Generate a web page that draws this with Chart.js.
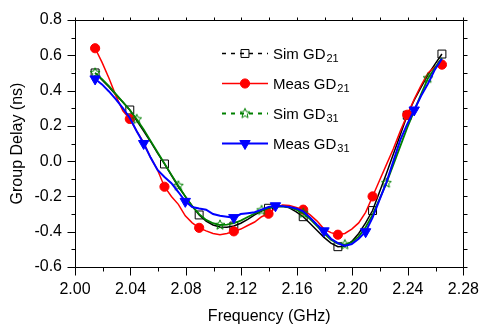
<!DOCTYPE html>
<html><head><meta charset="utf-8">
<script src="https://cdn.jsdelivr.net/npm/chart.js@4/dist/chart.umd.min.js"></script>
<style>html,body{margin:0;padding:0;background:#fff}canvas{display:block}</style>
</head><body>
<canvas id="c" width="484" height="326"></canvas>
<script>
// ---- data ----
const freqGHz = [2.0145,2.0195,2.0245,2.0295,2.0345,2.0395,2.0445,2.0495,2.0545,2.0595,
  2.0645,2.0695,2.0745,2.0795,2.0845,2.0895,2.0945,2.0995,2.1045,2.1095,
  2.1145,2.1195,2.1245,2.1295,2.1345,2.1395,2.1445,2.1495,2.1545,2.1595,
  2.1645,2.1695,2.1745,2.1795,2.1845,2.1895,2.1945,2.1995,2.2045,2.2095,
  2.2145,2.2195,2.2245,2.2295,2.2345,2.2395,2.2445,2.2495,2.2545,2.2595,2.2645];
const simGD21 = [0.50,0.46,0.42,0.375,0.335,0.29,0.23,0.17,0.11,0.045,
  -0.016,-0.08,-0.145,-0.20,-0.255,-0.305,-0.34,-0.362,-0.373,-0.375,
  -0.368,-0.352,-0.33,-0.305,-0.283,-0.267,-0.257,-0.255,-0.265,-0.287,
  -0.315,-0.353,-0.393,-0.432,-0.465,-0.485,-0.482,-0.455,-0.41,-0.35,
  -0.28,-0.175,-0.07,0.04,0.15,0.26,0.345,0.42,0.49,0.55,0.607];
const measGD21 = [0.64,0.56,0.47,0.37,0.285,0.239,0.17,0.105,0.02,-0.05,
  -0.145,-0.20,-0.245,-0.31,-0.35,-0.378,-0.395,-0.41,-0.417,-0.41,
  -0.398,-0.385,-0.365,-0.345,-0.315,-0.298,-0.265,-0.248,-0.252,-0.262,
  -0.275,-0.305,-0.34,-0.385,-0.405,-0.417,-0.41,-0.385,-0.35,-0.29,
  -0.20,-0.11,-0.02,0.07,0.17,0.263,0.35,0.43,0.50,0.535,0.547];
const simGD31 = [0.50,0.465,0.425,0.38,0.335,0.29,0.237,0.18,0.115,0.05,
  -0.013,-0.078,-0.14,-0.20,-0.255,-0.30,-0.333,-0.352,-0.362,-0.36,
  -0.352,-0.337,-0.317,-0.297,-0.279,-0.266,-0.258,-0.256,-0.262,-0.275,
  -0.295,-0.328,-0.368,-0.41,-0.445,-0.467,-0.473,-0.46,-0.428,-0.375,
  -0.305,-0.215,-0.124,-0.02,0.085,0.19,0.285,0.38,0.47,0.53,0.585];
const measGD31 = [0.466,0.435,0.395,0.35,0.30,0.245,0.17,0.10,0.02,-0.05,
  -0.09,-0.125,-0.175,-0.228,-0.26,-0.268,-0.275,-0.30,-0.31,-0.315,
  -0.32,-0.30,-0.295,-0.29,-0.275,-0.26,-0.253,-0.255,-0.26,-0.268,
  -0.285,-0.32,-0.36,-0.395,-0.44,-0.465,-0.48,-0.47,-0.44,-0.40,
  -0.32,-0.22,-0.12,0.0,0.12,0.21,0.29,0.37,0.44,0.52,0.58];
const xTickValues = [2.00,2.04,2.08,2.12,2.16,2.20,2.24,2.28];
const yTickValues = [-0.6,-0.4,-0.2,0.0,0.2,0.4,0.6,0.8];
const seriesNames = ['Sim GD', 'Meas GD', 'Sim GD', 'Meas GD'];
const seriesSubs = ['21', '21', '31', '31'];

// ---- styles ----
const FONT = '"Liberation Sans", Arial, sans-serif';
function makeStar(color, r) {
  const s = Math.ceil(r * 2 + 3);
  const c = document.createElement('canvas');
  c.width = s; c.height = s;
  const g = c.getContext('2d');
  g.strokeStyle = color; g.lineWidth = 1;
  g.beginPath();
  for (let k = 0; k < 10; k++) {
    const ang = -Math.PI / 2 + k * Math.PI / 5;
    const rr = (k % 2) ? r * 0.45 : r;
    g.lineTo(s / 2 + rr * Math.cos(ang), s / 2 + rr * Math.sin(ang));
  }
  g.closePath(); g.stroke();
  return c;
}
const starImg = makeStar('#008000', 5.2);

const pts = arr => freqGHz.map((f, i) => ({x: f, y: arr[i]}));
const every = (n, r) => ctx => (ctx.dataIndex % n === 0 ? r : 0);

const datasets = [
  {label: 'Sim GD21', data: pts(simGD21), borderColor: '#000', backgroundColor: 'rgba(0,0,0,0)',
   borderWidth: 1.5, pointStyle: 'rect', pointRadius: every(5, 5.6), pointBorderColor: '#000',
   pointBackgroundColor: 'rgba(0,0,0,0)', pointBorderWidth: 1, order: 4, dash: [4, 5]},
  {label: 'Meas GD21', data: pts(measGD21), borderColor: '#ff0000', backgroundColor: '#ff0000',
   borderWidth: 1.5, pointStyle: 'circle', pointRadius: every(5, 4.6), pointBorderColor: '#ff0000',
   pointBackgroundColor: '#ff0000', pointBorderWidth: 1, order: 3, dash: []},
  {label: 'Sim GD31', data: pts(simGD31), borderColor: '#008000', backgroundColor: '#008000',
   borderWidth: 1.8, pointStyle: starImg, pointRadius: every(6, 5), order: 2, dash: [4, 5]},
  {label: 'Meas GD31', data: pts(measGD31), borderColor: '#0000ff', backgroundColor: '#0000ff',
   borderWidth: 2, pointStyle: 'triangle', pointRotation: 180,
   pointRadius: ctx => ((ctx.dataIndex * 2) % 13 <= 1 ? 6 : 0), pointBorderColor: '#0000ff',
   pointBackgroundColor: '#0000ff', pointBorderWidth: 1, order: 1, dash: []}
];

const frameTicks = {
  id: 'frameTicks',
  afterDatasetsDraw(chart) {
    const {ctx, chartArea: a, scales: {x, y}} = chart;
    ctx.save();
    ctx.strokeStyle = '#000';
    ctx.lineWidth = 1;
    const L = Math.round(a.left) + 0.5, R = Math.round(a.right) + 0.5;
    const T = Math.round(a.top) + 0.5, B = Math.round(a.bottom) + 0.5;
    ctx.beginPath();
    ctx.rect(L, T, R - L, B - T);
    // x ticks: major + minor midpoints
    const xv = [];
    xTickValues.forEach((v, i) => { xv.push([v, true]); if (i < xTickValues.length - 1) xv.push([(v + xTickValues[i + 1]) / 2, false]); });
    xv.forEach(([v, major]) => {
      const px = Math.round(x.getPixelForValue(v)) + 0.5;
      ctx.moveTo(px, B); ctx.lineTo(px, B + (major ? 8 : 4));
      ctx.moveTo(px, T); ctx.lineTo(px, T - 3);
    });
    const yv = [];
    yTickValues.forEach((v, i) => { yv.push([v, true]); if (i < yTickValues.length - 1) yv.push([(v + yTickValues[i + 1]) / 2, false]); });
    yv.forEach(([v, major]) => {
      const py = Math.round(y.getPixelForValue(v)) + 0.5;
      ctx.moveTo(L, py); ctx.lineTo(L - (major ? 8 : 4), py);
      ctx.moveTo(R, py); ctx.lineTo(R + 4, py);
    });
    ctx.stroke();

    // legend
    const rows = [53, 83, 113, 143];
    const x0 = 222, x1 = 268, xm = 245, xt = 273;
    datasets.forEach((ds, i) => {
      const cy = rows[i] + 0.5;
      ctx.save();
      ctx.strokeStyle = ds.borderColor;
      ctx.lineWidth = ds.borderWidth;
      ctx.setLineDash(ds.dash);
      ctx.beginPath(); ctx.moveTo(x0, cy); ctx.lineTo(x1, cy); ctx.stroke();
      ctx.setLineDash([]);
      ctx.fillStyle = ds.pointBackgroundColor || ds.borderColor;
      ctx.strokeStyle = ds.pointBorderColor || ds.borderColor;
      ctx.lineWidth = 1;
      const r = i === 0 ? 5.6 : i === 1 ? 4.6 : i === 2 ? 5 : 6;
      Chart.helpers.drawPoint(ctx, {pointStyle: ds.pointStyle, rotation: ds.pointRotation || 0, radius: r, borderWidth: 1}, xm, cy);
      ctx.restore();
      ctx.fillStyle = '#000';
      ctx.textBaseline = 'alphabetic';
      ctx.textAlign = 'left';
      ctx.font = '15px ' + FONT;
      ctx.fillText(seriesNames[i], xt, rows[i] + 5.5);
      const w = ctx.measureText(seriesNames[i]).width;
      ctx.font = '11px ' + FONT;
      ctx.fillText(seriesSubs[i], xt + w + 1, rows[i] + 9);
    });
    ctx.restore();
  }
};

new Chart(document.getElementById('c'), {
  type: 'line',
  data: {datasets: datasets},
  plugins: [frameTicks],
  options: {
    responsive: false, animation: false, devicePixelRatio: 1,
    layout: {padding: {left: 8, right: 16, top: 20, bottom: 0}},
    plugins: {legend: {display: false}, tooltip: {enabled: false}},
    elements: {line: {tension: 0}},
    scales: {
      x: {
        type: 'linear', min: 2.00, max: 2.28,
        afterBuildTicks: s => { s.ticks = xTickValues.map(v => ({value: v})); },
        afterFit: s => { s.height = 59; },
        grid: {display: false, drawTicks: true, tickLength: 8},
        border: {display: false},
        ticks: {color: '#000', font: {family: FONT, size: 16}, padding: 5, maxRotation: 0,
                callback: v => Number(v).toFixed(2)},
        title: {display: true, text: 'Frequency (GHz)', color: '#000', font: {family: FONT, size: 16},
                padding: {top: 0, bottom: 0}}
      },
      y: {
        type: 'linear', min: -0.6, max: 0.8,
        afterBuildTicks: s => { s.ticks = yTickValues.map(v => ({value: v})); },
        afterFit: s => { s.width = 67; },
        grid: {display: false, drawTicks: true, tickLength: 8},
        border: {display: false},
        ticks: {color: '#000', font: {family: FONT, size: 16}, padding: 5,
                callback: v => Number(v).toFixed(1)},
        title: {display: true, text: 'Group Delay (ns)', color: '#000', font: {family: FONT, size: 16},
                padding: {top: 0, bottom: 0}}
      }
    }
  }
});
</script>
</body></html>
